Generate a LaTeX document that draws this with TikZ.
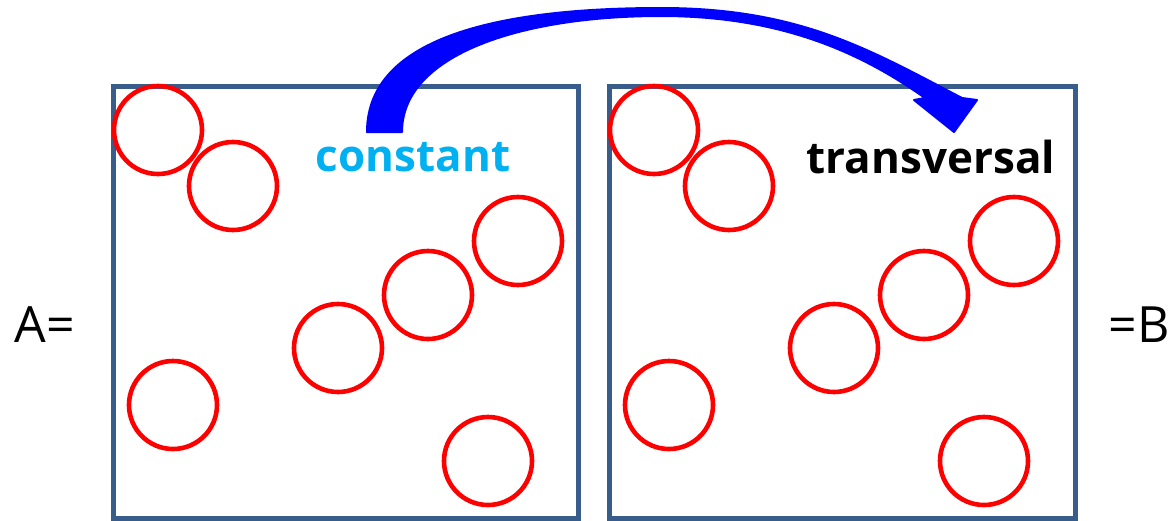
\documentclass[tikz,border=0pt]{standalone}
\usepackage{fontspec}
\setmainfont{Open Sans}
\definecolor{boxblue}{HTML}{385D8A}
\definecolor{txtcyan}{HTML}{00B0F0}
\definecolor{arrblue}{HTML}{0000FF}
\begin{document}
\begin{tikzpicture}[x=0.5pt,y=-0.5pt,
  frame/.style={draw=boxblue,line width=2.5pt},
  ball/.style={circle,draw=red,line width=2.3pt,minimum size=44pt,inner sep=0pt},
  lbl/.style={font=\fontsize{22}{24}\selectfont\bfseries,inner sep=0pt},
  side/.style={font=\fontsize{25}{28}\selectfont,inner sep=0pt}]
\useasboundingbox (0,0) rectangle (1168,520);
% boxes
\draw[frame] (113,86) rectangle (578,518);
\draw[frame] (609,86) rectangle (1075,518);
% circles left
\node[ball] (a1) at (158,130) {};
\node[ball] (a2) at (233,186) {};
\node[ball] (a3) at (518,241) {};
\node[ball] (a4) at (428,295) {};
\node[ball] (a5) at (338,348) {};
\node[ball] (a6) at (173,405) {};
\node[ball] (a7) at (488,461) {};
% circles right
\node[ball] (b1) at (654,130) {};
\node[ball] (b2) at (729,186) {};
\node[ball] (b3) at (1014,241) {};
\node[ball] (b4) at (924,295) {};
\node[ball] (b5) at (834,348) {};
\node[ball] (b6) at (669,405) {};
\node[ball] (b7) at (984,461) {};
% labels
\node[lbl,text=txtcyan] (cst) at (413,157) {constant};
\node[lbl,text=black] (trv) at (931,157) {transversal};
\node[side] (A) at (45,325) {A=};
\node[side] (B) at (1139,325) {=B};
% curved arrow
\fill[arrblue,draw=arrblue,line width=1pt,line join=round]
  (367,132) .. controls (367,30) and (520,8) .. (661,8)
  .. controls (800,8) and (870,50) .. (962,98)
  -- (977,100) -- (954,132) -- (914,100) -- (925,98)
  .. controls (860,52) and (780,16) .. (661,16)
  .. controls (520,16) and (402,55) .. (402,132) -- cycle;
\end{tikzpicture}
\end{document}
